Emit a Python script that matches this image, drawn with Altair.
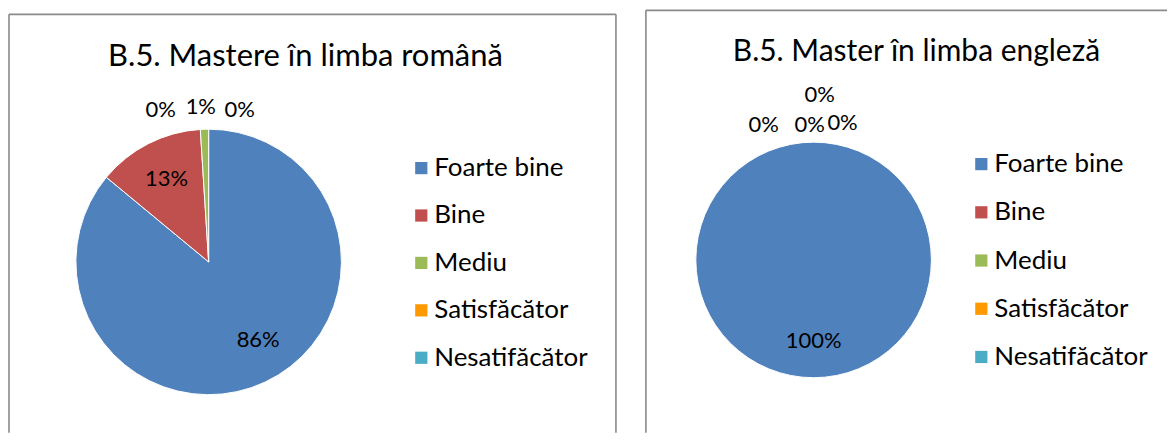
import math
import altair as alt
import pandas as pd

categories = ["Foarte bine", "Bine", "Mediu", "Satisfăcător", "Nesatifăcător"]
colors = ["#4F81BD", "#C0504D", "#9BBB59", "#FF9900", "#4BACC6"]
ro_values = [86, 13, 1, 0, 0]
en_values = [100, 0, 0, 0, 0]
ro_title = "B.5. Mastere în limba română"
en_title = "B.5. Master în limba engleză"

FONT = "Lato"
FRAME_COLOR = "#8a8a8a"


def one_row():
    return alt.Data(values=[{"k": 0}])


def frame_lines(lines):
    out = []
    for (x1, y1, x2, y2) in lines:
        out.append(
            alt.Chart(one_row())
            .mark_rule(color=FRAME_COLOR, strokeWidth=1.6)
            .encode(x=alt.value(x1), y=alt.value(y1), x2=alt.value(x2), y2=alt.value(y2))
        )
    return out


def panel(values, title, w, h, cx, cy, r, label_spec, title_pos, title_size, legend_pos, row_pad, lines):
    df = pd.DataFrame({"cat": categories, "value": values, "idx": list(range(len(categories)))})
    df["label"] = [f"{v}%" for v in values]
    total = sum(values)
    base = alt.Chart(df)
    theta_scale = alt.Scale(domain=[0, total], range=[0, 2 * math.pi])

    color = alt.Color(
        "cat:N",
        scale=alt.Scale(domain=categories, range=colors),
        legend=alt.Legend(
            orient="none",
            legendX=legend_pos[0],
            legendY=legend_pos[1],
            title=None,
            symbolType="square",
            symbolSize=150,
            symbolStrokeWidth=0,
            labelFont=FONT,
            labelFontSize=26,
            labelColor="black",
            labelOffset=0,
            labelLimit=300,
            rowPadding=row_pad,
            padding=0,
        ),
    )

    arcs = (
        base.transform_filter("datum.value > 0")
        .mark_arc(radius=r, stroke="white", strokeWidth=1)
        .encode(
            theta=alt.Theta("value:Q", stack=True, scale=theta_scale),
            color=color,
            order=alt.Order("idx:Q"),
            x=alt.value(cx),
            y=alt.value(cy),
        )
    )

    texts = []
    for cat, (rad, dx, dy) in label_spec.items():
        t = (
            base.transform_window(cum="sum(value)", sort=[alt.SortField("idx")])
            .transform_calculate(mid="datum.cum - datum.value / 2")
            .transform_filter(alt.datum.cat == cat)
            .mark_text(radius=rad, dx=dx, dy=dy, font=FONT, fontSize=22, color="black")
            .encode(
                theta=alt.Theta("mid:Q", stack=False, scale=theta_scale),
                text="label:N",
                x=alt.value(cx),
                y=alt.value(cy),
            )
        )
        texts.append(t)

    title_layer = (
        alt.Chart(alt.Data(values=[{"t": title}]))
        .mark_text(font=FONT, fontSize=title_size, color="black", baseline="alphabetic", align="center")
        .encode(text="t:N", x=alt.value(title_pos[0]), y=alt.value(title_pos[1]))
    )

    return alt.layer(*frame_lines(lines), arcs, *texts, title_layer).properties(width=w, height=h)


H = 425
left = panel(
    ro_values, ro_title, 615, H,
    cx=200, cy=254, r=133,
    label_spec={
        "Foarte bine": (93, 10, -6),
        "Bine": (93, 0, 0),
        "Mediu": (155, -3, 0),
        "Satisfăcător": (155, 31, 3),
        "Nesatifăcător": (155, -48, 3),
    },
    title_pos=(297, 58),
    title_size=31,
    legend_pos=(400, 147),
    row_pad=21.5,
    lines=[(0, 6, 0, H), (0, 6, 608, 6), (608, 6, 608, H)],
)

right = panel(
    en_values, en_title, 545, H,
    cx=191, cy=252, r=118,
    label_spec={
        "Foarte bine": (81, 0, 0),
        "Bine": (135, -50, 0),
        "Mediu": (135, -4, 0),
        "Satisfăcător": (135, 29, -2),
        "Nesatifăcător": (135, 6, -30),
    },
    title_pos=(294, 53),
    title_size=30,
    legend_pos=(346, 143),
    row_pad=22.3,
    lines=[(23, 2, 23, H), (23, 2, 545, 2)],
)

chart = (
    alt.hconcat(left, right, spacing=0)
    .resolve_scale(theta="independent", color="independent")
    .resolve_legend(color="independent")
    .configure_view(stroke=None)
    .properties(padding=0, background="white")
)

chart.save("out.html", embed_options={"renderer": "svg", "actions": False})
